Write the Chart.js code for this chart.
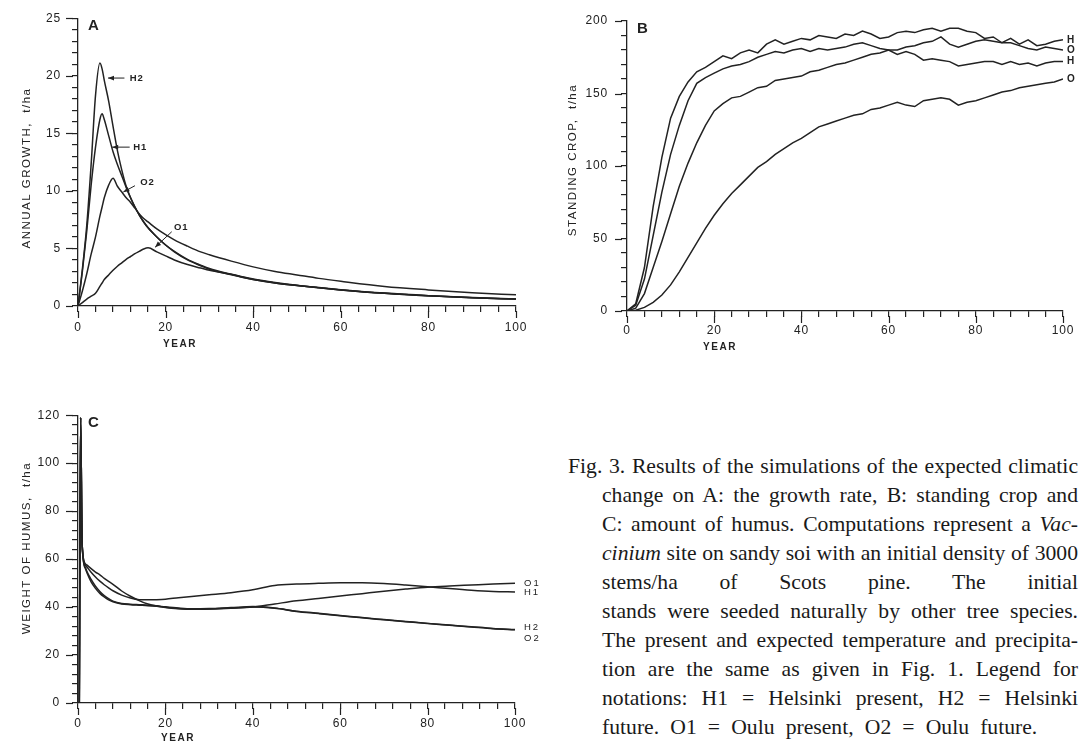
<!DOCTYPE html>
<html><head><meta charset="utf-8">
<script src="https://cdn.jsdelivr.net/npm/chart.js@4.4.1/dist/chart.umd.min.js"></script>
<style>
html,body{margin:0;padding:0;background:#fff;}
body{width:1079px;height:744px;position:relative;overflow:hidden;}
canvas{position:absolute;}
#cA{left:0;top:0;}
#cB{left:540px;top:0;}
#cC{left:0;top:396px;}
#caption{position:absolute;left:568px;top:452px;width:510px;font-family:"Liberation Serif","DejaVu Serif",serif;font-size:20px;line-height:29px;color:#1a1a1a;}
#caption div{white-space:nowrap;text-align:justify;text-align-last:justify;padding-left:34px;}
#caption div.first{padding-left:0;}
#caption div.last{text-align-last:left;}
</style>
</head><body>
<canvas id="cA" width="540" height="350"></canvas>
<canvas id="cB" width="539" height="350"></canvas>
<canvas id="cC" width="560" height="348"></canvas>
<div id="caption">
<div class="first">Fig. 3. Results of the simulations of the expected climatic</div>
<div>change on A: the growth rate, B: standing crop and</div>
<div>C: amount of humus. Computations represent a <i>Vac-</i></div>
<div><i>cinium</i> site on sandy soi with an initial density of 3000</div>
<div>stems/ha of Scots pine. The initial</div>
<div>stands were seeded naturally by other tree species.</div>
<div>The present and expected temperature and precipita-</div>
<div>tion are the same as given in Fig. 1. Legend for</div>
<div>notations: H1 = Helsinki present, H2 = Helsinki</div>
<div class="last">future. O1 = Oulu present, O2 = Oulu future.</div>
</div>
<script>
// ---------- Panel A : annual growth (t/ha) ----------
const yearsA = [0,1,2,3,4,5,5.5,6,7,8,9,10,11,12,13,14,15,16,18,20,22,25,28,30,35,40,45,50,55,60,70,80,90,100];
const growthH2 = [0,3.2,7.0,12.3,18.3,21.1,20.6,19.6,17.8,15.6,13.5,11.8,10.4,9.4,8.6,7.9,7.3,6.8,6.0,5.3,4.75,4.05,3.55,3.25,2.75,2.3,2.0,1.78,1.58,1.4,1.1,0.88,0.72,0.6];
const growthH1 = [0,3.0,6.5,10.5,13.8,16.2,16.7,16.2,14.8,13.4,12.3,11.3,10.3,9.4,8.6,7.9,7.3,6.8,6.0,5.3,4.7,4.0,3.5,3.2,2.72,2.3,2.0,1.78,1.58,1.4,1.1,0.88,0.72,0.6];
const growthO2 = [0,1.3,2.8,4.5,6.0,7.8,8.6,9.4,10.5,11.1,10.4,9.9,9.4,9.0,8.5,8.0,7.6,7.3,6.7,6.2,5.75,5.2,4.7,4.45,3.9,3.4,3.0,2.7,2.4,2.15,1.7,1.4,1.15,0.97];
const growthO1 = [0,0.3,0.6,0.85,1.1,1.7,2.0,2.3,2.7,3.1,3.45,3.75,4.05,4.3,4.55,4.75,4.95,5.05,4.7,4.35,4.0,3.6,3.3,3.1,2.75,2.35,2.05,1.8,1.6,1.42,1.12,0.9,0.73,0.6];
const yLabelsA = [0,5,10,15,20,25];
const xLabels = [0,20,40,60,80,100];

// ---------- Panel B : standing crop (t/ha) ----------
const yearsB = [0,2,4,6,8,10,12,14,16,18,20,22,24,26,28,30,32,34,36,38,40,42,44,46,48,50,52,54,56,58,60,62,64,66,68,70,72,74,76,78,80,82,84,86,88,90,92,94,96,98,100];
const cropH2 = [0,5,30,72,106,133,148,158,165,168,172,176,174,178,180,178,184,187,184,186,188,187,190,189,188,191,190,193,191,188,189,192,193,192,194,195,193,195,195,193,192,188,189,185,188,184,187,183,184,186,187];
const cropO2 = [0,2,12,30,48,67,86,102,116,128,138,143,147,148,151,154,155,159,160,161,162,165,166,168,170,171,173,175,177,178,180,180,182,183,185,186,189,184,182,184,186,187,186,185,185,183,181,180,182,181,180];
const cropH1 = [0,4,22,52,82,108,128,145,157,161,164,167,169,170,172,175,177,179,178,180,181,179,181,180,181,182,184,185,183,181,180,177,179,177,173,174,173,172,169,170,171,172,172,170,172,170,171,169,171,172,172];
const cropO1 = [0,0.5,2.5,6,11,18,27,37,47,57,66,74,81,87,93,99,103,108,112,116,119,123,127,129,131,133,135,136,139,140,142,144,142,141,145,146,147,146,142,144,145,147,149,151,152,154,155,156,157,158,160];
const yLabelsB = [0,50,100,150,200];

// ---------- Panel C : weight of humus (t/ha) ----------
const yearsC = [0.3,0.6,0.95,1.7,2,3,4,5,6,7,8,10,12,14,16,18,20,23,26,30,35,40,45,50,55,60,65,70,75,80,85,90,95,100];
const humusO1 = [0,119,66,58,57.6,56,54.6,53.4,52,50.7,49.5,46.7,44.5,42.7,41.3,40.4,39.8,39.3,39.1,39.2,39.5,40,41.3,42.6,43.6,44.6,45.6,46.6,47.5,48.3,48.8,49.2,49.6,49.9];
const humusH1 = [0,119,66,57.5,56.8,54.5,52.5,50.8,49.3,48,46.8,45,43.8,43.1,43,43.1,43.3,43.9,44.4,45.1,46,47.2,49,49.6,49.9,50.1,50.1,49.8,49.2,48.5,47.7,47,46.5,46.3];
const humusH2 = [0,119,66,56.5,55,51.5,48.7,46.5,44.8,43.5,42.5,41.5,41.2,41,40.8,40.5,40.1,39.6,39.3,39.4,39.8,40.2,39.6,38.3,37.4,36.5,35.6,34.8,34,33.2,32.5,31.8,31.1,30.6];
const humusO2 = [0,119,66,56,54.5,50.5,47.8,45.7,44.2,43,42.2,41.3,41,40.8,40.6,40.3,39.9,39.4,39.1,39.2,39.6,40,39.5,38.2,37.3,36.4,35.5,34.7,33.9,33.1,32.4,31.7,31,30.5];
const yLabelsC = [0,20,40,60,80,100,120];

const FONT = "'Liberation Sans', Arial, Helvetica, sans-serif";
const INK = '#222222';

// caption: largest serif size at which every justified line still fits its measure
(function fitCaption(){
  const cap = document.getElementById('caption');
  const rows = Array.from(cap.querySelectorAll('div'));
  function natural(el, fs){
    const s = document.createElement('span');
    s.style.cssText = 'position:absolute;visibility:hidden;white-space:nowrap;font-family:"Liberation Serif","DejaVu Serif",serif;font-size:' + fs + 'px;';
    s.innerHTML = el.innerHTML;
    document.body.appendChild(s);
    const w = s.getBoundingClientRect().width;
    s.remove();
    return w;
  }
  let scale = 10;
  rows.forEach(r => {
    const avail = r.classList.contains('first') ? 512 : 474;
    const w = natural(r, 20);
    if (w > 0) scale = Math.min(scale, avail / w);
  });
  const fs = 20 * scale;
  cap.style.fontSize = fs.toFixed(2) + 'px';
  // the last, unjustified line reaches x = 1037 in the reference
  const last = cap.querySelector('.last');
  const wl = natural(last, fs);
  const spaces = (last.textContent.match(/ /g) || []).length;
  const extra = (435 - wl) / Math.max(1, spaces);
  if (extra > 0 && extra < 6) last.style.wordSpacing = extra.toFixed(2) + 'px';
})();

function pts(xs, ys){ return xs.map((x,i)=>({x:x, y:ys[i]})); }
function minorList(max, step){ const a=[]; for(let v=0; v<=max+1e-9; v+=step) a.push(+v.toFixed(4)); return a; }
function seg(ctx,x1,y1,x2,y2){ ctx.beginPath(); ctx.moveTo(x1,y1); ctx.lineTo(x2,y2); ctx.stroke(); }

const deco = {
  id:'deco',
  beforeDraw(chart){ chart.ctx.letterSpacing = '0.8px'; },
  afterDraw(chart, args, o){
    const ctx = chart.ctx, xs = chart.scales.x, ys = chart.scales.y, ca = chart.chartArea;
    ctx.save();
    ctx.strokeStyle = INK; ctx.fillStyle = INK; ctx.lineWidth = 1.2;
    // longer major ticks
    o.yMajor.forEach(v=>{ const y = Math.round(ys.getPixelForValue(v))+0.5; seg(ctx, ca.left-5, y, ca.left-12, y); });
    o.xMajor.forEach(v=>{ const x = Math.round(xs.getPixelForValue(v))+0.5; seg(ctx, x, ca.bottom+5, x, ca.bottom+12); });
    // y title
    ctx.font = '11.5px ' + FONT; ctx.letterSpacing = '1.5px';
    ctx.save(); ctx.translate(o.yTitle.x, o.yTitle.y); ctx.rotate(-Math.PI/2);
    ctx.textAlign = 'center'; ctx.textBaseline = 'middle'; ctx.fillText(o.yTitle.text, 0, 0); ctx.restore();
    // x title
    ctx.font = 'bold 10px ' + FONT; ctx.letterSpacing = '1.5px';
    ctx.textAlign = 'center'; ctx.textBaseline = 'middle'; ctx.fillText('YEAR', o.xTitle.x, o.xTitle.y);
    // panel letter
    ctx.font = 'bold 15px ' + FONT; ctx.letterSpacing = '0px'; ctx.textAlign = 'left';
    ctx.fillText(o.letter, ca.left + 10, ca.top + 8);
    // arrows with labels (data coordinates)
    (o.arrows||[]).forEach(a=>{
      const tx = xs.getPixelForValue(a.tip[0]), ty = ys.getPixelForValue(a.tip[1]);
      const sx = xs.getPixelForValue(a.tail[0]), sy = ys.getPixelForValue(a.tail[1]);
      ctx.lineWidth = 1; seg(ctx, sx, sy, tx, ty);
      const ang = Math.atan2(ty-sy, tx-sx), L = 6, W = 2.4;
      ctx.beginPath(); ctx.moveTo(tx, ty);
      ctx.lineTo(tx - L*Math.cos(ang) + W*Math.sin(ang), ty - L*Math.sin(ang) - W*Math.cos(ang));
      ctx.lineTo(tx - L*Math.cos(ang) - W*Math.sin(ang), ty - L*Math.sin(ang) + W*Math.cos(ang));
      ctx.closePath(); ctx.fill();
      ctx.font = 'bold 9.5px ' + FONT; ctx.letterSpacing = '1px'; ctx.textAlign = 'left'; ctx.textBaseline = 'middle';
      ctx.fillText(a.text, xs.getPixelForValue(a.at[0]), ys.getPixelForValue(a.at[1]));
    });
    // end-of-line labels
    (o.ends||[]).forEach(e=>{
      const d = chart.data.datasets[e.ds].data; const last = d[d.length-1];
      ctx.font = e.font; ctx.letterSpacing = e.ls || '0px'; ctx.textAlign = 'left'; ctx.textBaseline = 'middle';
      ctx.fillText(e.text, ca.right + e.dx, ys.getPixelForValue(last.y) + (e.dy||0));
    });
    ctx.restore();
    ctx.letterSpacing = '0px';
  }
};

function makeChart(id, cfg){
  const line = (ys) => ({data: pts(cfg.years, ys), borderColor: INK, borderWidth: 1.5, pointRadius: 0, fill: false,
                        tension: cfg.smooth ? 0.4 : 0, cubicInterpolationMode: cfg.smooth ? 'monotone' : 'default'});
  return new Chart(document.getElementById(id), {
    type: 'line',
    data: { datasets: cfg.series.map(line) },
    options: {
      responsive: false, animation: false, devicePixelRatio: 1,
      layout: { padding: { top: cfg.padTop, right: cfg.padRight, left: 0, bottom: 0 } },
      plugins: { legend: {display:false}, tooltip: {enabled:false}, deco: cfg.deco },
      scales: {
        x: { type:'linear', min:0, max:100,
             afterBuildTicks: s => { s.ticks = minorList(100, 4).map(v=>({value:v})); },
             afterFit: s => { s.height = cfg.xHeight; },
             ticks: { autoSkip:false, maxRotation:0, padding: cfg.xPad, color: INK, font:{family:FONT, size:12},
                      callback: v => xLabels.includes(v) ? String(v) : '' },
             grid: { drawOnChartArea:false, drawTicks:true, tickLength:6, color: INK, lineWidth:1.2 },
             border: { display:true, color: INK, width:1.3 } },
        y: { type:'linear', min:0, max:cfg.yMax,
             afterBuildTicks: s => { s.ticks = minorList(cfg.yMax, cfg.yMinor).map(v=>({value:v})); },
             afterFit: s => { s.width = cfg.yWidth; },
             ticks: { autoSkip:false, padding: cfg.yPad, color: INK, font:{family:FONT, size:12},
                      callback: v => cfg.yLabels.includes(v) ? String(v) : '' },
             grid: { drawOnChartArea:false, drawTicks:true, tickLength:6, color: INK, lineWidth:1.2 },
             border: { display:true, color: INK, width:1.3 } }
      }
    },
    plugins: [deco]
  });
}

// Panel A
makeChart('cA', {
  years: yearsA, series: [growthH2, growthH1, growthO2, growthO1], smooth: true,
  yMax: 25, yMinor: 1, yLabels: yLabelsA, yWidth: 78, yPad: 11, xHeight: 44, xPad: 8, padTop: 17, padRight: 24,
  deco: {
    yMajor: yLabelsA, xMajor: xLabels, letter: 'A',
    yTitle: {text:'ANNUAL GROWTH,  t/ha', x: 27, y: 168},
    xTitle: {x: 180, y: 344},
    arrows: [
      {text:'H2', tip:[6.85,19.8], tail:[10.6,19.8], at:[11.8,19.8]},
      {text:'H1', tip:[7.8,13.8], tail:[11.8,13.8], at:[12.6,13.8]},
      {text:'O2', tip:[10.35,9.9], tail:[13.0,10.45], at:[14.2,10.7]},
      {text:'O1', tip:[17.6,5.1], tail:[21.4,6.45], at:[21.9,6.85]}
    ]
  }
});

// Panel B
makeChart('cB', {
  years: yearsB, series: [cropH2, cropO2, cropH1, cropO1], smooth: false,
  yMax: 200, yMinor: 10, yLabels: yLabelsB, yWidth: 87, yPad: 13, xHeight: 39, xPad: 6, padTop: 21, padRight: 15,
  deco: {
    yMajor: yLabelsB, xMajor: xLabels, letter: 'B',
    yTitle: {text:'STANDING CROP,  t/ha', x: 33, y: 160},
    xTitle: {x: 180, y: 347},
    ends: [
      {ds:0, text:'H', dx:4, font:'bold 10px '+FONT},
      {ds:1, text:'O', dx:4, font:'bold 10px '+FONT},
      {ds:2, text:'H', dx:4, font:'bold 10px '+FONT},
      {ds:3, text:'O', dx:4, font:'bold 10px '+FONT}
    ]
  }
});

// Panel C
makeChart('cC', {
  years: yearsC, series: [humusO1, humusH1, humusH2, humusO2], smooth: true,
  yMax: 120, yMinor: 4, yLabels: yLabelsC, yWidth: 78, yPad: 12, xHeight: 41, xPad: 7, padTop: 16, padRight: 45,
  deco: {
    yMajor: yLabelsC, xMajor: xLabels, letter: 'C',
    yTitle: {text:'WEIGHT OF HUMUS,  t/ha', x: 27, y: 152},
    xTitle: {x: 178, y: 342},
    ends: [
      {ds:0, text:'O1', dx:9, font:'9.5px '+FONT, ls:'2px'},
      {ds:1, text:'H1', dx:9, font:'9.5px '+FONT, ls:'2px'},
      {ds:2, text:'H2', dx:9, font:'9.5px '+FONT, ls:'2px', dy:-2},
      {ds:3, text:'O2', dx:9, font:'9.5px '+FONT, ls:'2px', dy:9}
    ]
  }
});
</script>
</body></html>
